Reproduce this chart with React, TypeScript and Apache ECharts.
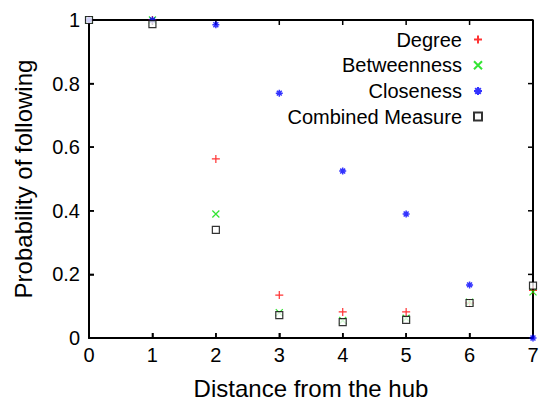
import React, { useEffect, useRef } from "react";
import * as echarts from "echarts";

const distances = [0, 1, 2, 3, 4, 5, 6, 7];
const yTicks = [0, 0.2, 0.4, 0.6, 0.8, 1];
const degree = [1, 1, 0.563, 0.135, 0.082, 0.082, 0.11, 0.15];
const betweenness = [1, 1, 0.39, 0.08, 0.055, 0.062, 0.113, 0.145];
const closeness = [1, 1, 0.985, 0.77, 0.525, 0.39, 0.167, 0];
const combined = [1, 0.987, 0.34, 0.072, 0.05, 0.057, 0.11, 0.165];

const PLUS = "path://M0,5L10,5M5,0L5,10";
const CROSS = "path://M1,1L9,9M9,1L1,9";
const STAR = "path://M0,5L10,5M5,0L5,10M1.5,1.5L8.5,8.5M8.5,1.5L1.5,8.5";
const FONT = "Liberation Sans, Arial, sans-serif";

export default function App() {
  const ref = useRef<HTMLDivElement>(null);
  useEffect(() => {
    const chart = echarts.init(ref.current!, undefined, { renderer: "svg" });
    const mk = (vals: number[]) => distances.map((d, i) => [d, vals[i]]);
    const xMin = distances[0], xMax = distances[distances.length - 1];
    const yMin = yTicks[0], yMax = yTicks[yTicks.length - 1];
    const series: any[] = [
      {
        type: "line",
        name: "frameLine",
        data: [[xMin, yMax], [xMax, yMax], [xMax, yMin]],
        symbol: "none",
        silent: true,
        clip: false,
        z: 4,
        lineStyle: { color: "#000", width: 2 },
        emphasis: { disabled: true },
      },
    ];
    [
      { name: "Degree", symbol: PLUS, symbolSize: 8, color: "#ff0000", data: mk(degree) },
      { name: "Betweenness", symbol: CROSS, symbolSize: 7, color: "#00dd00", data: mk(betweenness) },
      { name: "Closeness", symbol: STAR, symbolSize: 7, color: "#0000ff", data: mk(closeness) },
      { name: "Combined Measure", symbol: "rect", symbolSize: 7, color: "#000000", data: mk(combined) },
    ].forEach((s) =>
      series.push({
        type: "scatter", name: s.name, symbol: s.symbol, symbolSize: s.symbolSize, data: s.data,
        clip: false, z: 5,
        itemStyle: {
          color: s.name === "Combined Measure" ? "#ffffff" : "transparent",
          borderColor: s.color,
          borderWidth: s.name === "Closeness" ? 1.5 : 1.2,
        },
        emphasis: { disabled: true },
      })
    );
    series.push({
      type: "custom", name: "frameTicks", silent: true, clip: false, z: 3,
      data: [[xMin, yMin]], encode: { x: 0, y: 1 },
      renderItem: (_p: any, api: any) => {
        const bl = api.coord([xMin, yMin]);
        const tr = api.coord([xMax, yMax]);
        const st = { stroke: "#000", lineWidth: 2 };
        const ts = { stroke: "#000", lineWidth: 1.5 };
        const children: any[] = [
          { type: "line", shape: { x1: bl[0], y1: tr[1], x2: tr[0], y2: tr[1] }, style: st },
          { type: "line", shape: { x1: tr[0], y1: tr[1], x2: tr[0], y2: bl[1] }, style: st },
        ];
        distances.forEach((d) => {
          const x = api.coord([d, yMin])[0];
          children.push({ type: "line", shape: { x1: x, y1: tr[1], x2: x, y2: tr[1] + 5 }, style: ts });
          children.push({ type: "line", shape: { x1: x, y1: bl[1], x2: x, y2: bl[1] - 5 }, style: ts });
        });
        yTicks.forEach((v) => {
          const y = api.coord([xMin, v])[1];
          children.push({ type: "line", shape: { x1: tr[0], y1: y, x2: tr[0] - 5, y2: y }, style: ts });
          children.push({ type: "line", shape: { x1: bl[0], y1: y, x2: bl[0] + 5, y2: y }, style: ts });
        });
        return { type: "group", children };
      },
    });
    const axisLine = { show: true, onZero: false, lineStyle: { color: "#000", width: 2 } };
    const tick = { show: true, inside: true, length: 5, lineStyle: { color: "#000", width: 1.5 } };
    chart.setOption({
      animation: false,
      textStyle: { fontFamily: FONT },
      grid: { left: 89, right: 11, top: 20, bottom: 62, outerBoundsMode: "none", containLabel: false },
      legend: {
        orient: "vertical", right: 56, top: 23, align: "right",
        itemWidth: 8, itemHeight: 8, itemGap: 2.7,
        textStyle: { fontSize: 20, color: "#000", fontFamily: FONT, lineHeight: 23, padding: [0, 7, 0, 0] },
        data: ["Degree", "Betweenness", "Closeness", "Combined Measure"],
      },
      xAxis: {
        type: "value", min: xMin, max: xMax, interval: 1, position: "bottom",
        name: "Distance from the hub", nameLocation: "middle", nameGap: 38,
        nameTextStyle: { fontSize: 24, color: "#000", fontFamily: FONT },
        axisLine, axisTick: tick,
        axisLabel: { fontSize: 20, color: "#000", margin: 7, fontFamily: FONT },
        splitLine: { show: false },
      },
      yAxis: {
        type: "value", min: yMin, max: yMax, interval: 0.2, position: "left",
        name: "Probability of following", nameLocation: "middle", nameGap: 54,
        nameTextStyle: { fontSize: 24, color: "#000", fontFamily: FONT },
        axisLine, axisTick: tick,
        axisLabel: { fontSize: 20, color: "#000", margin: 9, fontFamily: FONT },
        splitLine: { show: false },
      },
      series,
    });
    return () => chart.dispose();
  }, []);
  return <div ref={ref} style={{ width: 544, height: 400, position: "absolute", left: 0, top: 0 }} />;
}
